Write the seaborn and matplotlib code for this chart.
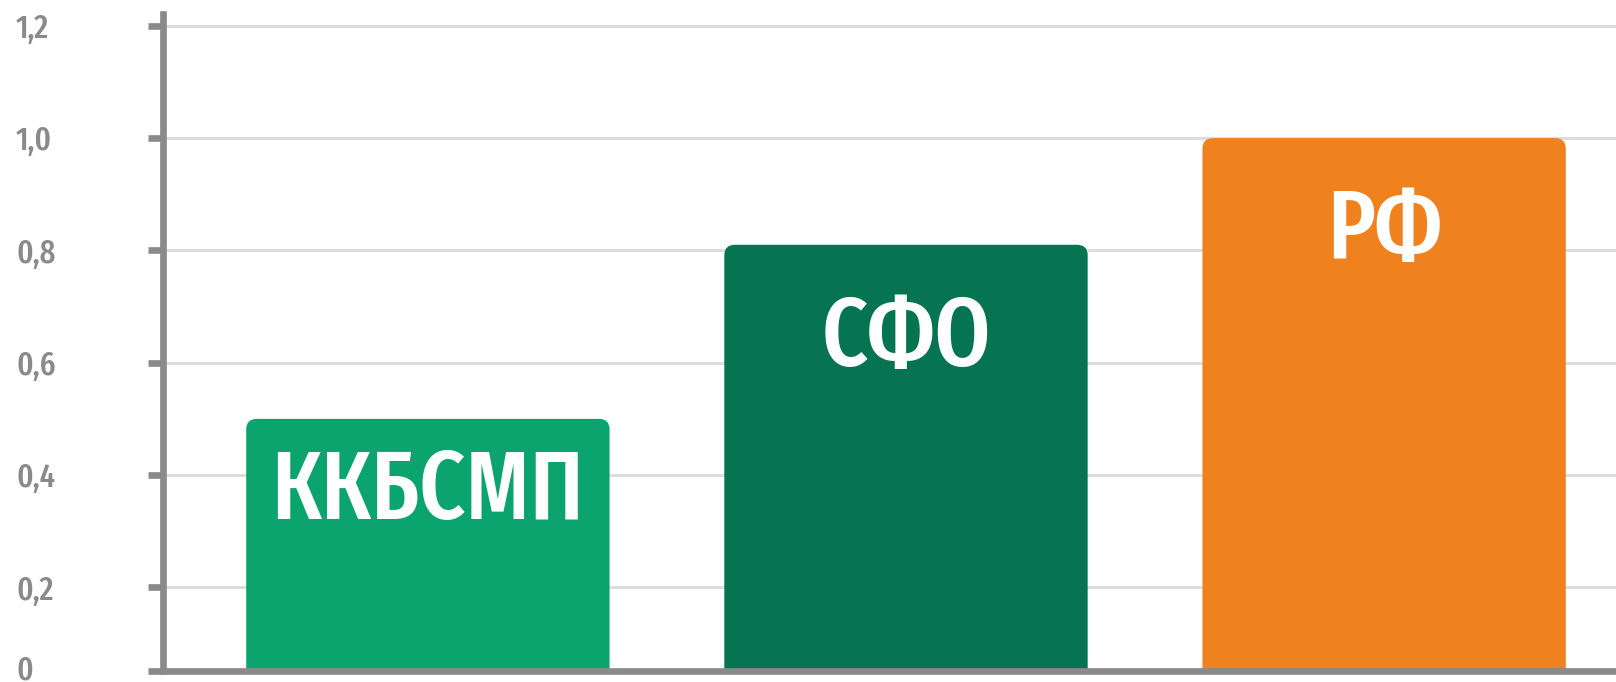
import os
import matplotlib
matplotlib.use("Agg")
import matplotlib.pyplot as plt
import matplotlib.transforms as mtransforms
import seaborn as sns
from matplotlib import font_manager as fm
from matplotlib.patches import FancyBboxPatch

# ---- data ----
categories = ["ККБСМП", "СФО", "РФ"]
values = [0.50, 0.81, 1.00]
bar_colors = ["#0CA46E", "#067450", "#EF811F"]
tick_values = [0.2, 0.4, 0.6, 0.8, 1.0, 1.2]
tick_labels = ["0,2", "0,4", "0,6", "0,8", "1,0", "1,2"]
zero_label = "0"

# ---- style ----
sns.set_theme(style="white")
plt.rcParams["font.family"] = ["DejaVu Sans"]


def pick_condensed(target_weight=700):
    best, best_key = None, None
    for f in fm.fontManager.ttflist:
        base = os.path.basename(f.fname).lower().replace(" ", "").replace("-", "")
        nm = f.name.lower().replace(" ", "")
        tag = base + nm
        if "extracondensed" in tag or "ultracondensed" in tag:
            rank = 0
        elif "semicondensed" in tag:
            rank = 2
        elif "condensed" in tag or "narrow" in tag:
            rank = 1
        else:
            continue
        if "italic" in tag or "oblique" in tag:
            continue
        if "mono" in tag or ("serif" in nm and "sans" not in nm):
            continue
        w = f.weight
        if isinstance(w, str):
            w = fm.weight_dict.get(w, 400)
        key = (rank, abs(w - target_weight))
        if best_key is None or key < best_key:
            best, best_key = f, key
    if best is None:
        return fm.FontProperties(family="DejaVu Sans", weight="bold")
    return fm.FontProperties(fname=best.fname)


fp_bar = pick_condensed(500)
fp_tick = pick_condensed(500)

W, H, DPI = 1616, 682, 100
fig = plt.figure(figsize=(W / DPI, H / DPI), dpi=DPI, facecolor="white")
ax = fig.add_axes([163 / W, 11 / H, 1 - 163 / W, (671 - 14) / H])

sns.barplot(x=categories, y=values, hue=categories, palette=bar_colors,
            legend=False, width=0.76, saturation=1, ax=ax, zorder=2)

# rounded tops: rebuild each seaborn bar as a rounded box with the same geometry
for p in list(ax.patches):
    x, y = p.get_x(), p.get_y()
    w, h = p.get_width(), p.get_height()
    fc = p.get_facecolor()
    p.set_visible(False)
    ax.add_patch(FancyBboxPatch((x, y), w, h,
                                boxstyle="round,pad=0,rounding_size=0.022",
                                mutation_aspect=0.85, facecolor=fc,
                                edgecolor="none", zorder=2))

y_bottom, y_top = 0.051, 1.221
ax.set_ylim(y_bottom, y_top)
ax.set_xlim(-0.554, 2.485)

grey = "#8a8a8a"
ax.set_yticks([y_bottom] + tick_values)
ax.set_yticklabels([""] + tick_labels)
for lbl in ax.get_yticklabels():
    lbl.set_fontproperties(fp_tick)
    lbl.set_fontsize(24)
    lbl.set_horizontalalignment("left")
    lbl.set_color(grey)

ax.tick_params(axis="y", left=True, length=10.8, width=4.8, color=grey,
               pad=95)
ax.tick_params(axis="x", bottom=False, labelbottom=False)
ax.set_xlabel("")
ax.set_ylabel("")

# "0" label at the baseline, nudged up a little so it stays inside the figure
zero_tr = mtransforms.offset_copy(
    mtransforms.blended_transform_factory(fig.transFigure, ax.transData),
    fig=fig, x=0, y=4, units="dots")
ax.text(16 / W, y_bottom, zero_label, transform=zero_tr, ha="left",
        va="center_baseline", color=grey, fontproperties=fp_tick,
        fontsize=24, clip_on=False)

ax.yaxis.grid(True, color="#dddddd", linewidth=2.2)
ax.set_axisbelow(True)

for s in ["top", "right"]:
    ax.spines[s].set_visible(False)
for s in ["left", "bottom"]:
    ax.spines[s].set_color(grey)
    ax.spines[s].set_linewidth(4.8)
    ax.spines[s].set_zorder(3)

label_drop = [0.178, 0.216, 0.215]
for i, (cat, v) in enumerate(zip(categories, values)):
    ax.text(i, v - label_drop[i], cat, ha="center", va="baseline",
            color="white", fontproperties=fp_bar, fontsize=70, zorder=4)

fig.savefig("out.png", dpi=DPI, facecolor="white")
